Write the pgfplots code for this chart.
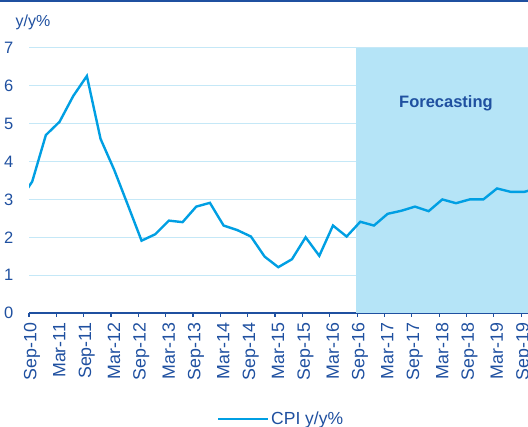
\documentclass[border=0pt]{standalone}
\usepackage{fontspec}
\setmainfont{Liberation Sans}
\usepackage{pgfplots}
\pgfplotsset{compat=1.18}
\definecolor{cpiline}{RGB}{0,159,227}
\definecolor{shade}{RGB}{181,228,247}
\definecolor{gridblue}{RGB}{197,232,247}
\definecolor{navy}{RGB}{31,80,160}

\begin{document}
\fontsize{16.5}{19}\selectfont
\begin{tikzpicture}
\begin{axis}[
    at={(0pt,0pt)}, anchor=south west,
    scale only axis, width=499pt, height=265pt,
    xmin=0, xmax=109.5, ymin=0, ymax=7,
    axis lines*=left,
    x axis line style={draw=navy, line width=1.6pt, -},
    y axis line style={draw=none},
    xtick={0,6,...,108},
    xticklabels={Sep-10,Mar-11,Sep-11,Mar-12,Sep-12,Mar-13,Sep-13,Mar-14,Sep-14,Mar-15,Sep-15,Mar-16,Sep-16,Mar-17,Sep-17,Mar-18,Sep-18,Mar-19,Sep-19},
    xticklabel style={rotate=90, anchor=east, text=navy, font=\fontsize{17.8}{19}\selectfont, yshift=-3pt},
    ytick={0,1,...,7},
    yticklabel style={text=navy, font=\fontsize{16.5}{19}\selectfont, xshift=-6pt},
    /pgf/number format/assume math mode=true,
    tick align=outside,
    major tick length=4pt,
    xtick style={draw=navy, line width=1.2pt},
    ytick style={draw=none},
    ymajorgrids,
    grid style={draw=gridblue, line width=1pt},
    legend style={at={(0.505,-0.40)}, anchor=center, draw=none,
        font=\fontsize{17.5}{19}\selectfont, text=navy},
    legend image code/.code={\draw[#1] (0pt,0pt) -- (50pt,0pt);},
]
\addplot[fill=shade, draw=none, forget plot] coordinates {
    (71.7,0) (71.7,7) (109.5,7) (109.5,0)
} -- cycle;

\addplot[color=cpiline, line width=2.4pt] coordinates {
    (-2.3,2.93) (0.7,3.47) (3.7,4.70) (6.7,5.05) (9.7,5.73) (12.7,6.26)
    (15.7,4.60) (18.7,3.78) (21.7,2.85) (24.7,1.91) (27.7,2.08) (30.7,2.44)
    (33.7,2.40) (36.7,2.81) (39.7,2.91) (42.7,2.31) (45.7,2.19) (48.7,2.02)
    (51.7,1.49) (54.7,1.21) (57.7,1.42) (60.7,2.00) (63.7,1.51) (66.7,2.31)
    (69.7,2.02) (72.7,2.41) (75.7,2.31) (78.7,2.62) (81.7,2.70) (84.7,2.81)
    (87.7,2.69) (90.7,3.00) (93.7,2.90) (96.7,3.00) (99.7,3.00) (102.7,3.29)
    (105.7,3.20) (108.7,3.20) (111.7,3.30)
};
\addlegendentry{CPI y/y\%}

\node[text=navy, font=\bfseries\fontsize{16.5}{19}\selectfont] at (axis cs:91.5,5.55) {Forecasting};
\end{axis}
\node[text=navy, font=\fontsize{16}{19}\selectfont] at (4pt,291pt) {y/y\%};
\pgfresetboundingbox
\useasboundingbox (-29pt,-114pt) rectangle (499pt,313pt);
\draw[navy, line width=1.6pt] (-29pt,312.2pt) -- (499pt,312.2pt);
\end{tikzpicture}
\end{document}
